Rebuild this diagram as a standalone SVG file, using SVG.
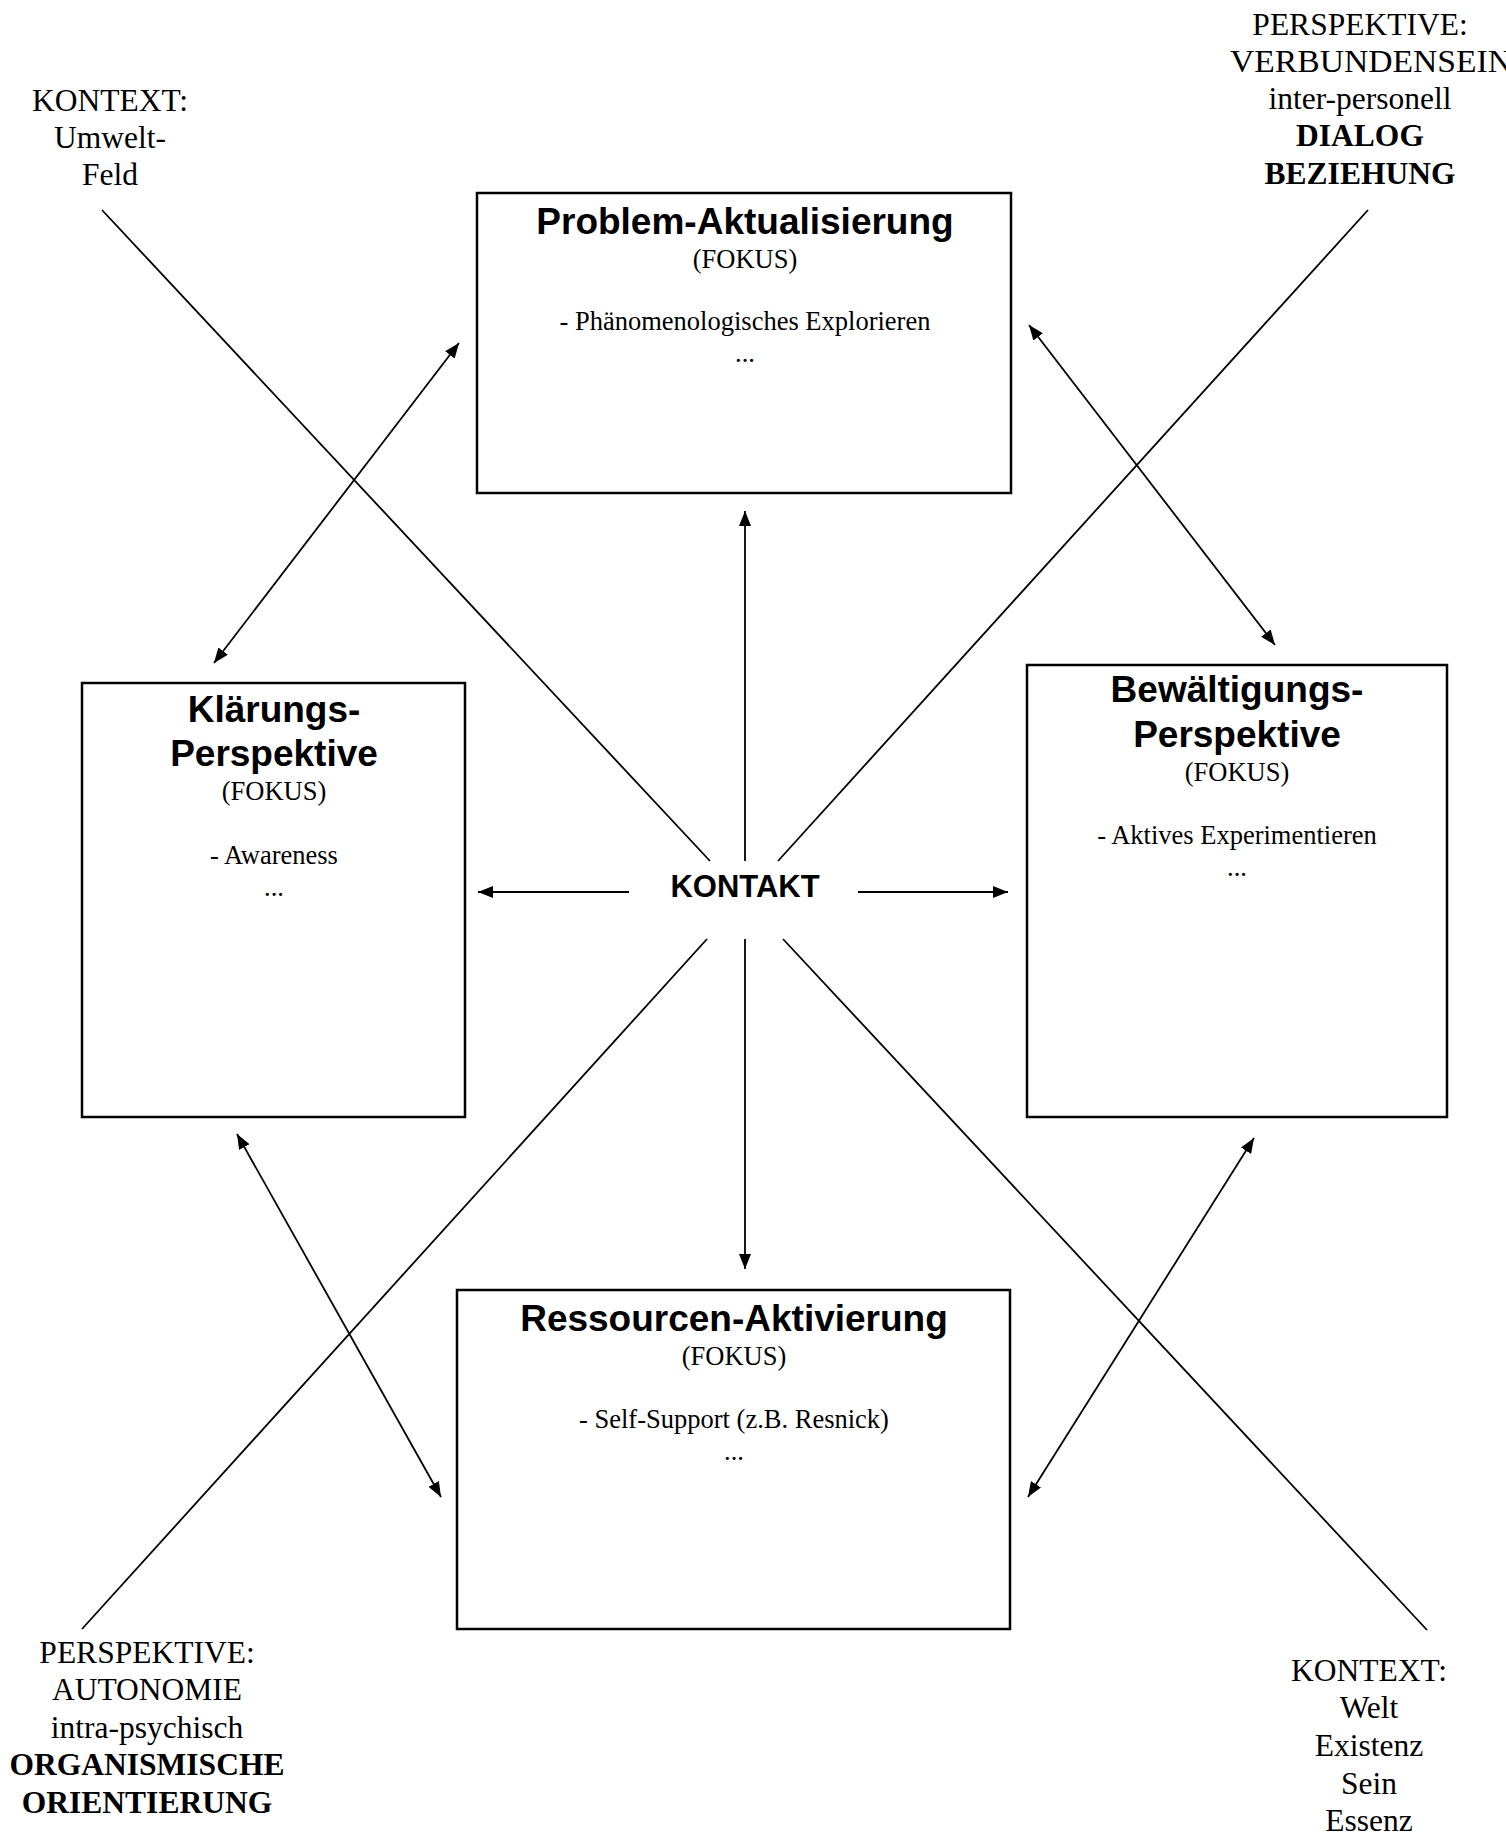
<svg xmlns="http://www.w3.org/2000/svg" width="1506" height="1834" viewBox="0 0 1506 1834">
<style>
.box{fill:#fff;stroke:#000;stroke-width:2.5}
.ln{stroke:#000;stroke-width:1.8;fill:none}
.arr{marker-end:url(#ah)}
.dbl{marker-start:url(#ah);marker-end:url(#ah)}
.h{font-family:"Liberation Sans",Arial,sans-serif;font-weight:bold;font-size:37px;text-anchor:middle;fill:#000}
.t{font-family:"Liberation Serif","Times New Roman",serif;font-size:26.5px;text-anchor:middle;fill:#000}
.lab{font-family:"Liberation Serif","Times New Roman",serif;font-size:31.5px;text-anchor:middle;fill:#000}
.b{font-weight:bold}
.k{font-family:"Liberation Sans",Arial,sans-serif;font-weight:bold;font-size:31px;text-anchor:middle;fill:#000}
</style>
<defs>
<marker id="ah" viewBox="0 0 15 12" refX="15" refY="6" markerWidth="15" markerHeight="12" markerUnits="userSpaceOnUse" orient="auto-start-reverse">
<path d="M0,0 L15,6 L0,12 z" fill="#000"/>
</marker>
</defs>
<rect width="1506" height="1834" fill="#fff"/>

<g id="connectors">
<line class="ln" x1="102" y1="210" x2="710" y2="861"/>
<line class="ln" x1="783" y1="939" x2="1427" y2="1630"/>
<line class="ln" x1="1368" y1="210" x2="778" y2="861"/>
<line class="ln" x1="707" y1="939" x2="82" y2="1629"/>
<line class="ln arr" x1="745" y1="861" x2="745" y2="511"/>
<line class="ln arr" x1="745" y1="939" x2="745" y2="1269"/>
<line class="ln arr" x1="629" y1="892" x2="478" y2="892"/>
<line class="ln arr" x1="858" y1="892" x2="1008" y2="892"/>
<line class="ln dbl" x1="459" y1="343" x2="214" y2="663"/>
<line class="ln dbl" x1="1029" y1="325" x2="1275" y2="645"/>
<line class="ln dbl" x1="237" y1="1134" x2="441" y2="1497"/>
<line class="ln dbl" x1="1254" y1="1138" x2="1028" y2="1497"/>
</g>

<g id="kontakt">
<text class="k" x="745" y="897">KONTAKT</text>
</g>

<g id="problem">
<rect class="box" x="477" y="193" width="534" height="300"/>
<text class="h" x="745" y="234">Problem-Aktualisierung</text>
<text class="t" x="745" y="268">(FOKUS)</text>
<text class="t" x="745" y="330">- Phänomenologisches Explorieren</text>
<text class="t" x="745" y="362">...</text>
</g>

<g id="klaerung">
<rect class="box" x="82" y="683" width="383" height="434"/>
<text class="h" x="274" y="722">Klärungs-</text>
<text class="h" x="274" y="766">Perspektive</text>
<text class="t" x="274" y="800">(FOKUS)</text>
<text class="t" x="274" y="864">- Awareness</text>
<text class="t" x="274" y="896">...</text>
</g>

<g id="bewaeltigung">
<rect class="box" x="1027" y="665" width="420" height="452"/>
<text class="h" x="1237" y="702">Bewältigungs-</text>
<text class="h" x="1237" y="747">Perspektive</text>
<text class="t" x="1237" y="781">(FOKUS)</text>
<text class="t" x="1237" y="844">- Aktives Experimentieren</text>
<text class="t" x="1237" y="876">...</text>
</g>

<g id="ressourcen">
<rect class="box" x="457" y="1290" width="553" height="339"/>
<text class="h" x="734" y="1331">Ressourcen-Aktivierung</text>
<text class="t" x="734" y="1365">(FOKUS)</text>
<text class="t" x="734" y="1428">- Self-Support (z.B. Resnick)</text>
<text class="t" x="734" y="1460">...</text>
</g>

<g id="kontext-umwelt">
<text class="lab" x="110" y="111">KONTEXT:</text>
<text class="lab" x="110" y="148">Umwelt-</text>
<text class="lab" x="110" y="185">Feld</text>
</g>

<g id="perspektive-verbundensein">
<text class="lab" x="1360" y="35">PERSPEKTIVE:</text>
<text class="lab" x="1230" y="72" style="text-anchor:start" textLength="282" lengthAdjust="spacingAndGlyphs">VERBUNDENSEIN</text>
<text class="lab" x="1360" y="109">inter-personell</text>
<text class="lab b" x="1360" y="146">DIALOG</text>
<text class="lab b" x="1360" y="184">BEZIEHUNG</text>
</g>

<g id="perspektive-autonomie">
<text class="lab" x="147" y="1663">PERSPEKTIVE:</text>
<text class="lab" x="147" y="1700">AUTONOMIE</text>
<text class="lab" x="147" y="1738">intra-psychisch</text>
<text class="lab b" x="147" y="1775">ORGANISMISCHE</text>
<text class="lab b" x="147" y="1813">ORIENTIERUNG</text>
</g>

<g id="kontext-welt">
<text class="lab" x="1369" y="1681">KONTEXT:</text>
<text class="lab" x="1369" y="1718">Welt</text>
<text class="lab" x="1369" y="1756">Existenz</text>
<text class="lab" x="1369" y="1794">Sein</text>
<text class="lab" x="1369" y="1831">Essenz</text>
</g>
</svg>
